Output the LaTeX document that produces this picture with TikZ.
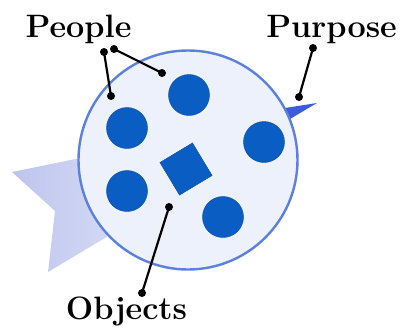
\documentclass[tikz,border=0pt]{standalone}
\usetikzlibrary{shapes.geometric}
\definecolor{ringfill}{HTML}{ECF1FB}
\definecolor{ringedge}{HTML}{5B80DF}
\definecolor{person}{HTML}{0A5EC3}
\definecolor{tailL}{HTML}{BEC5EE}
\definecolor{tailR}{HTML}{D4DAF4}
\definecolor{wedge}{HTML}{3D5DD8}
\tikzset{
  person/.style={circle, fill=person, draw=person!80!black, line width=0.4bp, minimum size=41bp, inner sep=0pt},
  obj/.style={rectangle, fill=person, draw=person!80!black, line width=0.4bp, minimum size=38bp, inner sep=0pt, rotate=31},
  pin/.style={circle, fill=black, minimum size=8bp, inner sep=0pt},
  lead/.style={line width=2.2bp, black},
  lbl/.style={font=\fontsize{32.5}{38}\selectfont\bfseries, anchor=base, inner sep=0pt}
}
\begin{document}
\begin{tikzpicture}[x=1bp,y=-1bp]
\useasboundingbox (0,0) rectangle (402,328);
% tail
\shade[left color=tailL, right color=tailR] (12,172) -- (100,154) -- (120,229) -- (48,272) -- (55,211) -- cycle;
% purpose wedge
\fill[wedge] (285,108) -- (317,103) -- (290,119) -- cycle;
% ring
\node[circle, fill=ringfill, draw=ringedge, line width=2.4bp, minimum size=219bp, inner sep=0pt] (ring) at (188,160) {};
% people
\node[person] (p1) at (189,95) {};
\node[person] (p2) at (127,128) {};
\node[person] (p3) at (264,142) {};
\node[person] (p4) at (127,191) {};
\node[person] (p5) at (223,217) {};
% object
\node[obj] (o1) at (186,169) {};
% labels
\node[lbl] (people) at (78.5,37) {People};
\node[lbl] (purpose) at (331.5,37) {Purpose};
\node[lbl] (objects) at (126.5,319) {Objects};
% pins
\node[pin] (a1) at (104,52) {};
\node[pin] (a2) at (111,96) {};
\node[pin] (b1) at (114,49) {};
\node[pin] (b2) at (162,73) {};
\node[pin] (c1) at (313,48) {};
\node[pin] (c2) at (299,97) {};
\node[pin] (d1) at (169,207) {};
\node[pin] (d2) at (142,293) {};
\draw[lead] (a1.center) -- (a2.center);
\draw[lead] (b1.center) -- (b2.center);
\draw[lead] (c1.center) -- (c2.center);
\draw[lead] (d1.center) -- (d2.center);
\end{tikzpicture}
\end{document}
